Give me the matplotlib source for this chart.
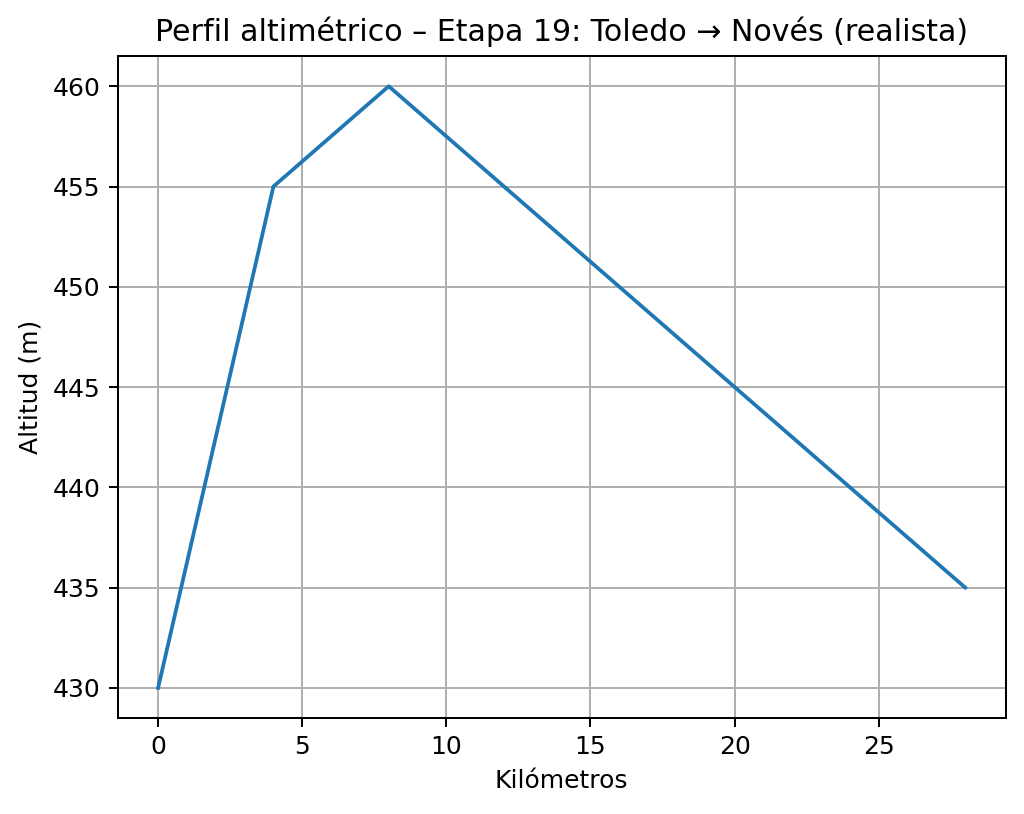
import matplotlib.pyplot as plt

# Elevation profile data
km = [0, 4, 8, 28]
altitud = [430, 455, 460, 435]

fig = plt.figure(figsize=(1024 / 180, 814 / 180), dpi=180)
ax = fig.add_subplot(111)
fig.subplots_adjust(left=0.115, right=0.982, top=0.931, bottom=0.118)

ax.plot(km, altitud)
ax.set_title('Perfil altimétrico – Etapa 19: Toledo → Novés (realista)')
ax.set_xlabel('Kilómetros')
ax.set_ylabel('Altitud (m)')
ax.grid(True)

fig.savefig('out.png', dpi=180)
